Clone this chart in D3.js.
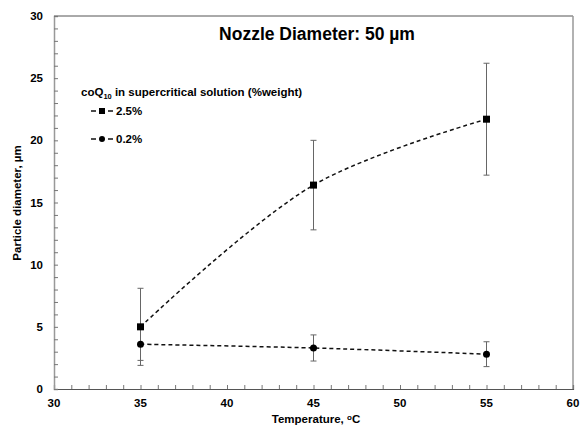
<!DOCTYPE html>
<html>
<head>
<meta charset="utf-8">
<script src="https://cdn.jsdelivr.net/npm/d3@7/dist/d3.min.js"></script>
<style>
  body { margin: 0; background: #fff; }
  svg { font-family: "Liberation Sans", Arial, sans-serif; }
</style>
</head>
<body>
<div id="chart"></div>
<script>
// data
const temps = [35, 45, 55];
const conc25 = [5.0, 16.4, 21.7];
const conc25Err = [3.1, 3.6, 4.5];
const conc02 = [3.6, 3.3, 2.8];
const conc02Err = [1.3, 1.05, 1.0];
const xTicks = [30, 35, 40, 45, 50, 55, 60];
const yTicks = [0, 5, 10, 15, 20, 25, 30];

const width = 580, height = 430;
const margin = {left: 54, right: 7, top: 16, bottom: 41};

const svg = d3.select("#chart").append("svg")
  .attr("width", width).attr("height", height);

const x = d3.scaleLinear().domain([30, 60]).range([margin.left, width - margin.right]);
const y = d3.scaleLinear().domain([0, 30]).range([height - margin.bottom, margin.top]);

// frame (top / right)
svg.append("line").attr("x1", x(30)).attr("x2", x(60)).attr("y1", y(30)).attr("y2", y(30))
  .attr("stroke", "#555").attr("stroke-width", 1);
svg.append("line").attr("x1", x(60)).attr("x2", x(60)).attr("y1", y(30)).attr("y2", y(0))
  .attr("stroke", "#999").attr("stroke-width", 1.5);

// axes with inside ticks
const xAxis = svg.append("g").attr("transform", `translate(0,${y(0)})`)
  .call(d3.axisBottom(x).tickValues(d3.range(30, 61, 1)).tickSize(-4).tickFormat(""));
const yAxis = svg.append("g").attr("transform", `translate(${x(30)},0)`)
  .call(d3.axisLeft(y).tickValues(d3.range(0, 31, 1)).tickSize(-4).tickFormat(""));
xAxis.select(".domain").attr("stroke", "#555").attr("stroke-width", 1.2);
yAxis.select(".domain").attr("stroke", "#999").attr("stroke-width", 1.5);
svg.selectAll(".tick line").attr("stroke", "#777");

svg.append("g").selectAll("text").data(xTicks).enter().append("text")
  .attr("x", d => x(d)).attr("y", y(0) + 18)
  .attr("text-anchor", "middle").attr("font-size", 11.5).attr("font-weight", "bold")
  .text(d => d);
svg.append("g").selectAll("text").data(yTicks).enter().append("text")
  .attr("x", x(30) - 11).attr("y", d => y(d) + 4)
  .attr("text-anchor", "end").attr("font-size", 11.5).attr("font-weight", "bold")
  .text(d => d);

// axis titles
const xt = svg.append("text").attr("x", 316).attr("y", 423)
  .attr("text-anchor", "middle").attr("font-size", 11.5).attr("font-weight", "bold");
xt.append("tspan").text("Temperature, ");
xt.append("tspan").attr("font-size", 8).attr("dy", -3).text("o");
xt.append("tspan").attr("dy", 3).text("C");

svg.append("text").attr("transform", `translate(21,${203}) rotate(-90)`)
  .attr("text-anchor", "middle").attr("font-size", 11.5).attr("font-weight", "bold")
  .text("Particle diameter, \u00b5m");

svg.append("text").attr("x", 317).attr("y", 40)
  .attr("text-anchor", "middle").attr("font-size", 17.5).attr("font-weight", "bold")
  .text("Nozzle Diameter: 50 \u00b5m");

// error bars
function errBars(vals, errs) {
  const g = svg.append("g").attr("stroke", "#666").attr("stroke-width", 1);
  temps.forEach((t, i) => {
    const cx = x(t), lo = y(vals[i] - errs[i]), hi = y(vals[i] + errs[i]);
    g.append("line").attr("x1", cx).attr("x2", cx).attr("y1", lo).attr("y2", hi);
    g.append("line").attr("x1", cx - 3).attr("x2", cx + 3).attr("y1", lo).attr("y2", lo);
    g.append("line").attr("x1", cx - 3).attr("x2", cx + 3).attr("y1", hi).attr("y2", hi);
  });
}
errBars(conc25, conc25Err);
errBars(conc02, conc02Err);

// lines
const line = d3.line().x(d => x(d[0])).y(d => y(d[1])).curve(d3.curveCatmullRom.alpha(0.5));
[conc25, conc02].forEach(vals => {
  svg.append("path").datum(temps.map((t, i) => [t, vals[i]]))
    .attr("d", line).attr("fill", "none").attr("stroke", "#111")
    .attr("stroke-width", 1.5).attr("stroke-dasharray", "4,3");
});

// markers
svg.append("g").selectAll("rect").data(temps).enter().append("rect")
  .attr("x", (d) => x(d) - 3.5).attr("y", (d, i) => y(conc25[i]) - 3.5)
  .attr("width", 7).attr("height", 7).attr("fill", "#000");
svg.append("g").selectAll("circle").data(temps).enter().append("circle")
  .attr("cx", d => x(d)).attr("cy", (d, i) => y(conc02[i]))
  .attr("r", 3.5).attr("fill", "#000");

// legend
const lt = svg.append("text").attr("x", 81).attr("y", 96)
  .attr("font-size", 11.5).attr("font-weight", "bold");
lt.append("tspan").text("coQ");
lt.append("tspan").attr("font-size", 7.5).attr("dy", 3).text("10");
lt.append("tspan").attr("dy", -3).text(" in supercritical solution (%weight)");

const legendItems = [{label: "2.5%", shape: "square", yy: 111}, {label: "0.2%", shape: "circle", yy: 139}];
legendItems.forEach(it => {
  svg.append("line").attr("x1", 91).attr("x2", 96).attr("y1", it.yy).attr("y2", it.yy)
    .attr("stroke", "#111").attr("stroke-width", 1.5);
  svg.append("line").attr("x1", 108).attr("x2", 113).attr("y1", it.yy).attr("y2", it.yy)
    .attr("stroke", "#111").attr("stroke-width", 1.5);
  if (it.shape === "square") {
    svg.append("rect").attr("x", 99).attr("y", it.yy - 3).attr("width", 6).attr("height", 6).attr("fill", "#000");
  } else {
    svg.append("circle").attr("cx", 102).attr("cy", it.yy).attr("r", 3).attr("fill", "#000");
  }
  svg.append("text").attr("x", 116).attr("y", it.yy + 4)
    .attr("font-size", 11.5).attr("font-weight", "bold").text(it.label);
});
</script>
</body>
</html>
